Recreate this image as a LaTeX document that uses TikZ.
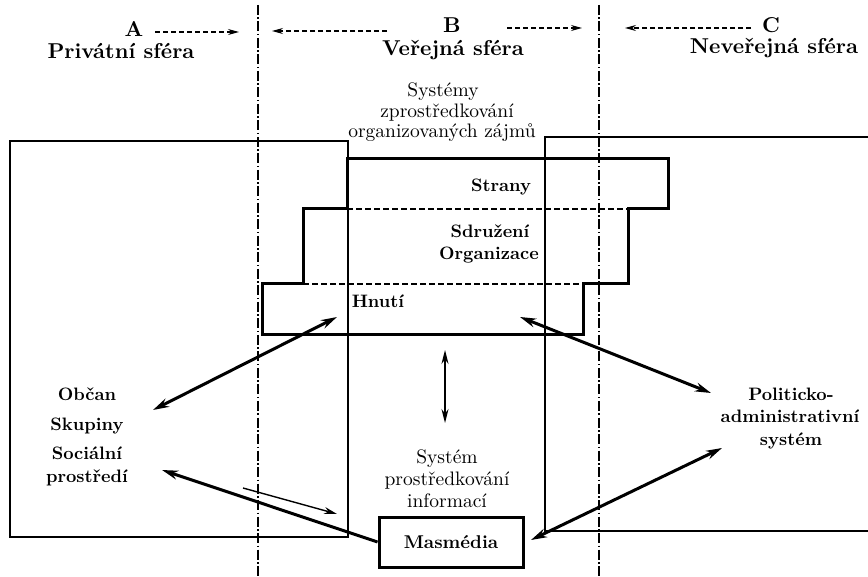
\documentclass[tikz,border=0pt]{standalone}
\usepackage{fontspec}
\setmainfont{lmroman10-regular.otf}[BoldFont=lmroman10-bold.otf]
\usetikzlibrary{arrows.meta}
\begin{document}
\begin{tikzpicture}[x=1pt,y=-1pt,
  hdr/.style={font=\fontsize{21.5}{22}\selectfont\bfseries, inner sep=0pt, anchor=base},
  bl/.style={font=\fontsize{18}{20}\selectfont\bfseries, inner sep=0pt, anchor=base},
  nl/.style={font=\fontsize{19.5}{20}\selectfont, inner sep=0pt, anchor=base},
  thinbox/.style={line width=1.5pt},
  dashdot/.style={line width=1.5pt, dash pattern=on 10pt off 2.5pt on 1.5pt off 2.5pt},
  stair/.style={line width=3pt, line join=miter},
  inner/.style={line width=1.3pt, dash pattern=on 6pt off 3pt},
  hdrarrow/.style={line width=1.1pt, dash pattern=on 5pt off 3pt, -{Stealth[length=11pt,width=6pt]}},
  bigarrow/.style={line width=3pt, {Stealth[length=16pt,width=9pt]}-{Stealth[length=16pt,width=9pt]}},
  bigone/.style={line width=3pt, -{Stealth[length=16pt,width=9pt]}},
  smallarrow/.style={line width=1.4pt, -{Stealth[length=13pt,width=7pt]}},
  vertarrow/.style={line width=1.4pt, {Stealth[length=14pt,width=7pt]}-{Stealth[length=14pt,width=7pt]}},
  mbox/.style={draw, line width=3pt, minimum width=144pt, minimum height=50pt, inner sep=0pt, font=\fontsize{18.5}{20}\selectfont\bfseries}
]
\useasboundingbox (0,0) rectangle (868,577);
% thin boxes
\draw[thinbox] (348,141) -- (10,141) -- (10,537) -- (348,537) -- cycle;
\draw[thinbox] (868,137) -- (545,137) -- (545,531) -- (868,531);
% sphere separators
\coordinate (s1t) at (258,5); \coordinate (s1b) at (258,577);
\coordinate (s2t) at (599,5); \coordinate (s2b) at (599,577);
\draw[dashdot] (s1t) -- (s1b);
\draw[dashdot] (s2t) -- (s2b);
% staircase
\draw[stair] (347,159) -- (668,159) -- (668,209) -- (628,209) -- (628,284) -- (583,284) -- (583,335)
  -- (262,335) -- (262,284) -- (303,284) -- (303,209) -- (347,209) -- cycle;
\draw[inner] (347,209) -- (628,209);
\draw[inner] (303,284) -- (583,284);
% headers
\node[hdr] (A) at (134,37) {A};
\node[hdr] (Aname) at (121,59) {Privátní sféra};
\node[hdr] (B) at (452,33) {B};
\node[hdr] (Bname) at (453,56) {Veřejná sféra};
\node[hdr] (C) at (771,33) {C};
\node[hdr] (Cname) at (774,54) {Neveřejná sféra};
\coordinate (a1) at (155,32); \coordinate (a2) at (239,32);
\coordinate (b1) at (387,31); \coordinate (b2) at (272,31);
\coordinate (b3) at (507,28); \coordinate (b4) at (582,28);
\coordinate (c1) at (751,28); \coordinate (c2) at (625,28);
\draw[hdrarrow] (a1) -- (a2);
\draw[hdrarrow] (b1) -- (b2);
\draw[hdrarrow] (b3) -- (b4);
\draw[hdrarrow] (c1) -- (c2);
% systems of interests
\node[nl] (sy1) at (443,97) {Systémy};
\node[nl] (sy2) at (447,118) {zprostředkování};
\node[nl] (sy3) at (442,138) {organizovaných zájmů};
\node[bl] (strany) at (501,192) {Strany};
\node[bl] (sdr) at (490,238) {Sdružení};
\node[bl] (org) at (489,260) {Organizace};
\node[bl] (hnuti) at (378,308) {Hnutí};
% left
\node[bl] (obcan) at (87,401) {Občan};
\node[bl] (skup) at (87,430) {Skupiny};
\node[bl] (soc1) at (87,459) {Sociální};
\node[bl] (soc2) at (87,482) {prostředí};
% right
\node[bl] (pol1) at (791,400) {Politicko-};
\node[bl] (pol2) at (790,423) {administrativní};
\node[bl] (pol3) at (791,445) {systém};
% info system
\node[nl] (in1) at (447,463) {Systém};
\node[nl] (in2) at (447,485) {prostředkování};
\node[nl] (in3) at (447,507) {informací};
\node[mbox] (mas) at (451,542) {Masmédia};
% arrows
\coordinate (p1) at (337,317); \coordinate (p2) at (153,410);
\coordinate (q1) at (520,317); \coordinate (q2) at (711,393);
\coordinate (r2) at (162,470);
\coordinate (t1) at (531,540); \coordinate (t2) at (722,448);
\coordinate (u1) at (243,488); \coordinate (u2) at (337,514);
\coordinate (v1) at (445,350); \coordinate (v2) at (445,423);
\draw[bigarrow] (p1) -- (p2);
\draw[bigarrow] (q1) -- (q2);
\draw[bigone] (mas.west) -- (r2);
\draw[bigarrow] (t1) -- (t2);
\draw[smallarrow] (u1) -- (u2);
\draw[vertarrow] (v1) -- (v2);
\end{tikzpicture}
\end{document}
